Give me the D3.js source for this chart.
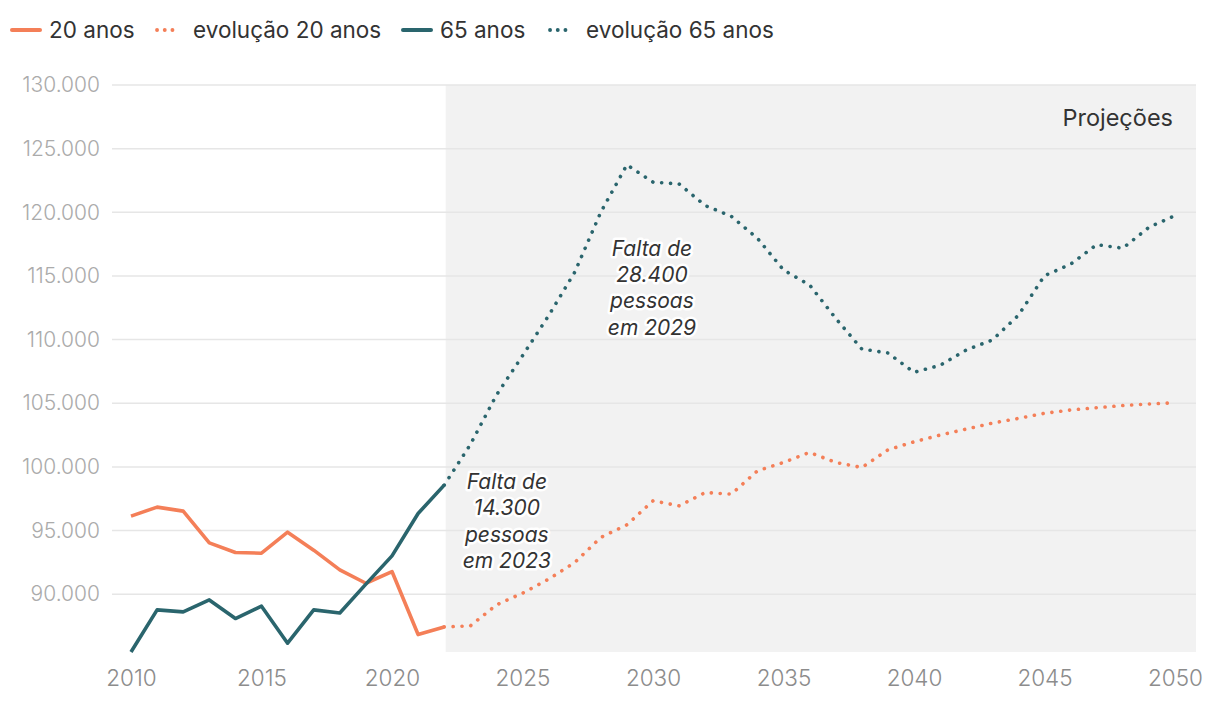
<!DOCTYPE html>
<html>
<head>
<meta charset="utf-8">
<script src="https://cdn.jsdelivr.net/npm/d3@7"></script>
<style>
  html, body { margin: 0; padding: 0; background: #fff; }
  svg { display: block; font-family: Inter, "Noto Sans", sans-serif; }
</style>
</head>
<body>
<svg id="chart" width="1220" height="704"></svg>
<script>
// ---- data ----
const yearsHist = [2010,2011,2012,2013,2014,2015,2016,2017,2018,2019,2020,2021,2022];
const age20Hist = [96130,96840,96525,94030,93280,93220,94870,93460,91910,90860,91780,86830,87430];
const age65Hist = [85460,88770,88610,89550,88090,89060,86150,88770,88530,90790,93010,96340,98570];

const yearsProj = [2022,2023,2024,2025,2026,2027,2028,2029,2030,2031,2032,2033,2034,2035,2036,
                   2037,2038,2039,2040,2041,2042,2043,2044,2045,2046,2047,2048,2049,2050];
const age20Proj = [87430,87510,89160,90080,91180,92490,94460,95450,97340,96940,97990,97860,99690,100350,101140,
                   100350,99950,101340,101970,102500,102970,103440,103810,104210,104470,104650,104820,104940,105040];
const age65Proj = [98570,101750,105640,108730,111880,115290,120010,123730,122370,122230,120530,119690,117960,115470,114290,
                   111670,109260,108950,107430,107980,109180,109970,111910,115020,115920,117460,117180,118820,119740];

const yTicks = [90000,95000,100000,105000,110000,115000,120000,125000,130000];
const xTicks = [2010,2015,2020,2025,2030,2035,2040,2045,2050];
const projStart = 2022;

const legendLabels = ["20 anos","evolução 20 anos","65 anos","evolução 65 anos"];
const annotations = [
  {year: 2024.4, value: 98260, lines: ["Falta de","14.300","pessoas","em 2023"]},
  {year: 2029.96, value: 116590, lines: ["Falta de","28.400","pessoas","em 2029"]}
];

const ORANGE = "#f47f58";
const TEAL = "#2a656d";

// ---- layout ----
const svg = d3.select("#chart");
const plotLeft = 112, plotRight = 1196, plotTop = 85, plotBottom = 652;

const x = d3.scaleLinear().domain([2010, 2050]).range([131, 1175]);
const yMin = d3.min(age65Hist.concat(age20Hist));
const y = d3.scaleLinear().domain([yMin, 130000]).range([plotBottom, plotTop]);

const fmt = d3.formatLocale({decimal: ",", thousands: ".", grouping: [3], currency: ["", ""]}).format(",d");

// projection shading
svg.append("rect")
  .attr("x", x(projStart) + 1.5)
  .attr("y", plotTop)
  .attr("width", plotRight - x(projStart) - 1.5)
  .attr("height", plotBottom - plotTop)
  .attr("fill", "#f2f2f2");

// gridlines
svg.append("g").selectAll("line").data(yTicks).join("line")
  .attr("x1", plotLeft).attr("x2", plotRight)
  .attr("y1", d => y(d)).attr("y2", d => y(d))
  .attr("stroke", "#e6e6e6").attr("stroke-width", 1.5);

// y axis labels
const yAxis = d3.axisLeft(y).tickValues(yTicks).tickFormat(fmt).tickSize(0).tickPadding(0);
svg.append("g").attr("transform", `translate(100,0)`).call(yAxis)
  .call(g => g.select(".domain").remove())
  .call(g => g.selectAll("text")
    .attr("fill", "#ababab").attr("font-size", 21).attr("font-weight", 300)
    .attr("font-family", "Inter, sans-serif"));

// x axis labels
const xAxis = d3.axisBottom(x).tickValues(xTicks).tickFormat(d3.format("d")).tickSize(0).tickPadding(0);
svg.append("g").attr("transform", `translate(0,${plotBottom + 34})`).call(xAxis)
  .call(g => g.select(".domain").remove())
  .call(g => g.selectAll("text")
    .attr("dy", 0)
    .attr("fill", "#8c8c8c").attr("font-size", 22.5).attr("font-weight", 300)
    .attr("font-family", "Inter, sans-serif"));

// "Projeções"
svg.append("text")
  .attr("x", 1173).attr("y", 126)
  .attr("text-anchor", "end")
  .attr("font-size", 23.5)
  .attr("fill", "#333")
  .text("Projeções");

// lines
const line = d3.line().x(d => x(d[0])).y(d => y(d[1]));
const zip = (a, b) => a.map((v, i) => [v, b[i]]);

const dotted = (sel) => sel.attr("fill", "none").attr("stroke-width", 3.6)
  .attr("stroke-linecap", "round").attr("stroke-dasharray", "0.1 8.8");
const solid = (sel) => sel.attr("fill", "none").attr("stroke-width", 3.6)
  .attr("stroke-linejoin", "round").attr("stroke-linecap", "butt");

svg.append("path").datum(zip(yearsProj, age20Proj)).attr("d", line).attr("stroke", ORANGE).call(dotted);
svg.append("path").datum(zip(yearsProj, age65Proj)).attr("d", line).attr("stroke", TEAL).call(dotted);
svg.append("path").datum(zip(yearsHist, age20Hist)).attr("d", line).attr("stroke", ORANGE).call(solid);
svg.append("path").datum(zip(yearsHist, age65Hist)).attr("d", line).attr("stroke", TEAL).call(solid);

// annotations
annotations.forEach(a => {
  const t = svg.append("text")
    .attr("x", x(a.year)).attr("y", y(a.value))
    .attr("text-anchor", "middle")
    .attr("font-size", 21).attr("font-style", "italic")
    .attr("fill", "#333")
    .attr("stroke", "#fff").attr("stroke-width", 5).attr("stroke-linejoin", "round")
    .attr("paint-order", "stroke");
  a.lines.forEach((l, i) => {
    t.append("tspan").attr("x", x(a.year)).attr("dy", i === 0 ? 0 : 26.3).text(l);
  });
});

// legend
const legendItems = [
  {label: legendLabels[0], color: ORANGE, dotted: false, x0: 11},
  {label: legendLabels[1], color: ORANGE, dotted: true, x0: 155},
  {label: legendLabels[2], color: TEAL, dotted: false, x0: 402},
  {label: legendLabels[3], color: TEAL, dotted: true, x0: 548}
];
const lg = svg.append("g").attr("transform", "translate(0,30)");
legendItems.forEach(it => {
  const g = lg.append("g").attr("transform", `translate(${it.x0},0)`);
  if (it.dotted) {
    g.append("line").attr("x1", 2).attr("x2", 25).attr("y1", 0).attr("y2", 0)
      .attr("stroke", it.color).attr("stroke-width", 3.8).attr("stroke-linecap", "round")
      .attr("stroke-dasharray", "0.1 7.6");
  } else {
    g.append("line").attr("x1", 1).attr("x2", 29).attr("y1", 0).attr("y2", 0)
      .attr("stroke", it.color).attr("stroke-width", 4).attr("stroke-linecap", "round");
  }
  g.append("text").attr("x", 38).attr("y", 0).attr("dy", "0.35em")
    .attr("font-size", 22.5).attr("fill", "#333").text(it.label);
});
</script>
</body>
</html>
